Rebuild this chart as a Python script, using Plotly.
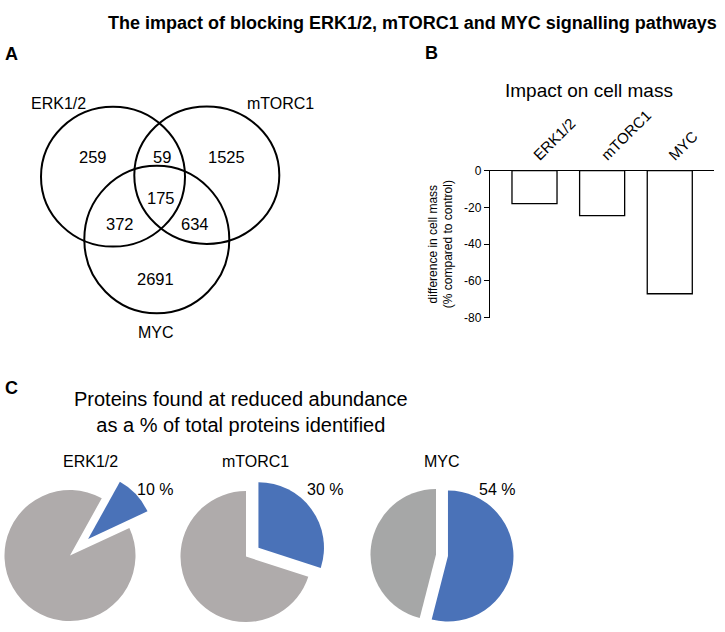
import math
import plotly.graph_objects as go

W, H = 725, 632
FONT = "Liberation Sans, Arial, Helvetica, sans-serif"

# ---------------- data ----------------
title_text = "The impact of blocking ERK1/2, mTORC1 and MYC signalling pathways"
pathways = ["ERK1/2", "mTORC1", "MYC"]

# Venn (panel A): counts per region
venn_regions = ["ERK1/2 only", "ERK1/2 & mTORC1", "mTORC1 only", "all three",
                "ERK1/2 & MYC", "mTORC1 & MYC", "MYC only"]
venn_counts = [259, 59, 1525, 175, 372, 634, 2691]

# Bar chart (panel B)
bar_title = "Impact on cell mass"
cell_mass_change = [-18, -24.5, -67]
y_ticks = [0, -20, -40, -60, -80]
y_title = "difference in cell mass<br>(% compared to control)"

# Pies (panel C)
pie_heading = "Proteins found at reduced abundance<br>as a % of total proteins identified"
reduced_pct = [10, 30, 54]


# ---------------- helpers ----------------
def px(x):
    return x / W


def py(y):
    return 1 - y / H


def clip(v):
    return max(0.0, min(1.0, v))


fig = go.Figure()

# ---------------- panel B: bars ----------------
fig.add_trace(go.Bar(
    x=pathways, y=cell_mass_change, width=0.666,
    marker=dict(color="white", line=dict(color="black", width=1.3)),
    xaxis="x", yaxis="y", hoverinfo="x+y",
))

# ---------------- panel C: pies ----------------
pie_centers = [(70, 561), (246, 562), (436, 560)]
pie_r = 67
pie_rotation = [29, 0, 0]
pie_pull = [0.37, 0.23, 0.18]
grey_cols = ["#AFABAB", "#AFABAB", "#A6A7A7"]
blue = "#4A72B8"
clear = "rgba(0,0,0,0)"

for i, v in enumerate(reduced_pct):
    vals = [v, 100 - v]
    cx, cy = pie_centers[i]
    theta = math.radians(pie_rotation[i] + 360 * v / 100 / 2)
    d = pie_pull[i] * pie_r
    bx, by = cx + d * math.sin(theta), cy - d * math.cos(theta)
    for (ccx, ccy, cols) in [(cx, cy, [clear, grey_cols[i]]),
                             (bx, by, [blue, clear])]:
        fig.add_trace(go.Pie(
            values=vals, labels=["reduced", "other"], sort=False,
            direction="clockwise", rotation=pie_rotation[i],
            marker=dict(colors=cols, line=dict(width=0)),
            textinfo="none", hoverinfo="skip", showlegend=False,
            domain=dict(x=[clip(px(ccx - pie_r)), clip(px(ccx + pie_r))],
                        y=[clip(py(ccy + pie_r)), clip(py(ccy - pie_r))]),
        ))

# ---------------- annotations ----------------
ann = []


def add_text(text, x, y, size, bold=False, xanchor="center"):
    ann.append(dict(
        text=f"<b>{text}</b>" if bold else text, x=px(x), y=py(y),
        xref="paper", yref="paper", xanchor=xanchor, yanchor="middle",
        showarrow=False, font=dict(family=FONT, size=size, color="black"),
    ))


add_text(title_text, 719, 16, 18, bold=True, xanchor="right")
add_text("A", 11.7, 48, 18, bold=True)
add_text("B", 431, 47.5, 18, bold=True)
add_text("C", 11.6, 389.5, 18, bold=True)

# Venn labels and counts
venn_label_pos = [(58.3, 98.3), (280, 98.3), (155.8, 332.7)]
for name, (x, y) in zip(pathways, venn_label_pos):
    add_text(name, x, y, 16)
venn_count_pos = [(92.5, 153.3), (161.7, 153.3), (226.7, 153.3), (160.8, 195),
                  (120, 221.7), (195, 221.7), (155.8, 278.3)]
for c, (x, y) in zip(venn_counts, venn_count_pos):
    add_text(str(c), x, y, 16.5)

# bar panel title
add_text(bar_title, 589, 85, 19)

# pie panel texts
add_text(pie_heading, 241, 414.5, 20)
pie_title_pos = [(90.5, 465), (256, 465), (442, 465)]
for name, (x, y) in zip(pathways, pie_title_pos):
    add_text(name, x, y, 16)
pct_pos = [(154.5, 493), (325, 493), (497, 493)]
for v, (x, y) in zip(reduced_pct, pct_pos):
    add_text(f"{v} %", x, y, 16)

# Venn circles
venn_circles = [(41, 102, 185, 245), (134.3, 101.7, 279.3, 242.3), (84.3, 162.3, 229.3, 313.3)]
shapes = []
for (x0, y0, x1, y1) in venn_circles:
    shapes.append(dict(type="circle", xref="paper", yref="paper",
                       x0=px(x0), x1=px(x1), y0=py(y1), y1=py(y0),
                       line=dict(color="black", width=2), fillcolor="rgba(0,0,0,0)"))

fig.update_layout(
    width=W, height=H, margin=dict(l=0, r=0, t=0, b=0),
    paper_bgcolor="white", plot_bgcolor="white", showlegend=False,
    font=dict(family=FONT, color="black"),
    annotations=ann, shapes=shapes,
    xaxis=dict(domain=[px(490), px(714)], anchor="y", side="top",
               type="category", range=[-0.658, 2.654],
               showline=True, linecolor="black", linewidth=1.3,
               ticks="", tickangle=-45, tickfont=dict(size=15),
               showgrid=False, zeroline=False),
    yaxis=dict(domain=[py(317.7), py(167.3)], anchor="x", range=[-80, 0],
               tickvals=y_ticks, ticktext=[str(t) for t in y_ticks],
               ticks="outside", ticklen=5, tickwidth=1.3, tickcolor="black",
               showline=True, linecolor="black", linewidth=1.3,
               tickfont=dict(size=12), showgrid=False, zeroline=False,
               title=dict(text=y_title, font=dict(size=12), standoff=8)),
)

fig.write_html(
    "out.html",
    config={"displayModeBar": False},
    post_script="document.body.style.margin='0';document.body.style.overflow='hidden';",
)
